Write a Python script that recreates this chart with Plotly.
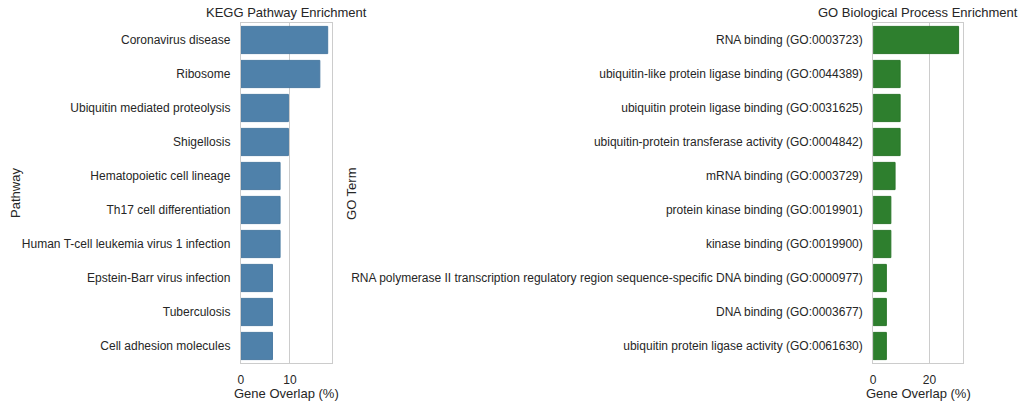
import plotly.graph_objects as go

# KEGG pathways (top to bottom)
kegg_terms = ['Coronavirus disease', 'Ribosome', 'Ubiquitin mediated proteolysis',
              'Shigellosis', 'Hematopoietic cell lineage', 'Th17 cell differentiation',
              'Human T-cell leukemia virus 1 infection', 'Epstein-Barr virus infection',
              'Tuberculosis', 'Cell adhesion molecules']
kegg_overlap = [17.7, 16.1, 9.7, 9.7, 8.0, 8.0, 8.0, 6.45, 6.45, 6.45]

# GO terms (top to bottom)
go_terms = ['RNA binding (GO:0003723)',
            'ubiquitin-like protein ligase binding (GO:0044389)',
            'ubiquitin protein ligase binding (GO:0031625)',
            'ubiquitin-protein transferase activity (GO:0004842)',
            'mRNA binding (GO:0003729)',
            'protein kinase binding (GO:0019901)',
            'kinase binding (GO:0019900)',
            'RNA polymerase II transcription regulatory region sequence-specific DNA binding (GO:0000977)',
            'DNA binding (GO:0003677)',
            'ubiquitin protein ligase activity (GO:0061630)']
go_overlap = [30.4, 9.6, 9.6, 9.6, 7.8, 6.3, 6.3, 4.7, 4.7, 4.7]

W, H = 1024, 408
FONT = 'Liberation Sans, Arial, sans-serif'
TXT = '#262626'
GRID = '#cccccc'

def px_x(p):
    return p / W

def px_y(p):
    return 1 - p / H

fig = go.Figure()

fig.add_trace(go.Bar(
    x=kegg_overlap, y=kegg_terms, orientation='h', width=0.8,
    marker=dict(color='#4f81aa', line=dict(color='#4a7aa2', width=1)),
    xaxis='x', yaxis='y', showlegend=False,
))
fig.add_trace(go.Bar(
    x=go_overlap, y=go_terms, orientation='h', width=0.8,
    marker=dict(color='#2e7f2e', line=dict(color='#2a762a', width=1)),
    xaxis='x2', yaxis='y2', showlegend=False,
))

ydom = [px_y(363), px_y(23)]
common_x = dict(showgrid=True, gridcolor=GRID, gridwidth=1, zeroline=False,
                showline=True, mirror=True, linecolor=GRID, linewidth=1,
                ticks='', ticklabelstandoff=6, tickfont=dict(size=12, color=TXT))
common_y = dict(showgrid=False, zeroline=False, showline=True, mirror=True,
                linecolor=GRID, linewidth=1, ticks='', ticklabelstandoff=7,
                tickfont=dict(size=12, color=TXT), range=[9.5, -0.5])

fig.update_layout(
    width=W, height=H,
    margin=dict(l=0, r=0, t=0, b=0),
    paper_bgcolor='white', plot_bgcolor='white',
    font=dict(family=FONT, color=TXT),
    xaxis=dict(domain=[px_x(238.5), px_x(330)], range=[0, max(kegg_overlap) * 1.05],
               dtick=10, anchor='y', **common_x),
    yaxis=dict(domain=ydom, anchor='x', **common_y),
    xaxis2=dict(domain=[px_x(872.7), px_x(962.7)], range=[0, max(go_overlap) * 1.05],
                dtick=20, anchor='y2', **common_x),
    yaxis2=dict(domain=ydom, anchor='x2', **common_y),
)

ann = [
    ('KEGG Pathway Enrichment', 284.3, 12, 0, 13),
    ('GO Biological Process Enrichment', 917.7, 12, 0, 13),
    ('Gene Overlap (%)', 284.3, 393, 0, 13),
    ('Gene Overlap (%)', 917.7, 393, 0, 13),
    ('Pathway', 12, 193, -90, 13),
    ('GO Term', 349, 193, -90, 13),
]
for text, x, y, rot, size in ann:
    fig.add_annotation(text=text, x=px_x(x), y=px_y(y), xref='paper', yref='paper',
                       showarrow=False, textangle=rot, xanchor='center', yanchor='middle',
                       font=dict(size=size, color=TXT, family=FONT))

# drop the default page margin so the 1024x408 figure fills the window
fig.write_html("out.html", config={'displayModeBar': False},
               post_script="document.body.style.margin='0px';document.body.style.overflow='hidden';")
